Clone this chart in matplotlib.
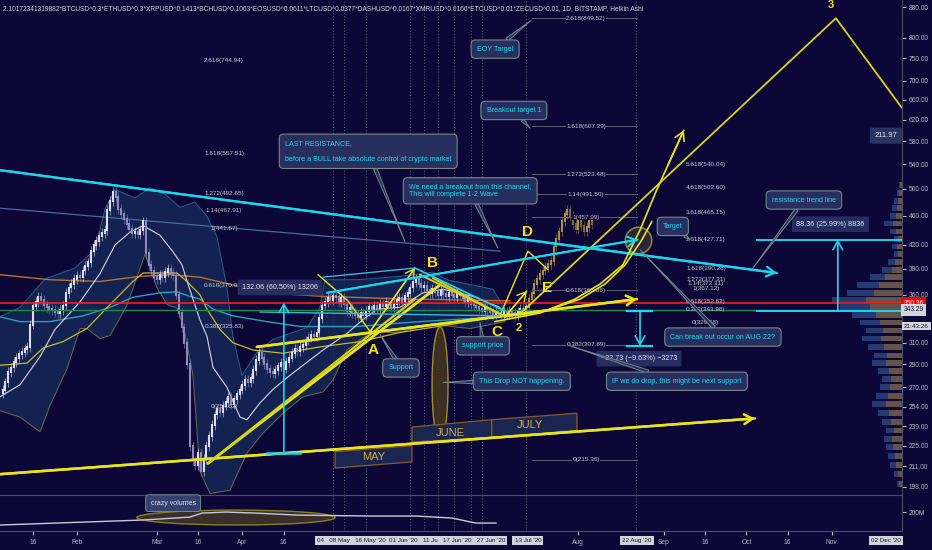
import numpy as np
import matplotlib
matplotlib.use("Agg")
import matplotlib.pyplot as plt
import matplotlib.transforms as mtransforms
from matplotlib.patches import Polygon, Ellipse
from matplotlib.ticker import NullLocator

plt.rcParams['font.family'] = ['Liberation Sans', 'DejaVu Sans']

BG = '#0c0736'
AXC = '#4a4e5c'
TXT = '#b2b5be'
CYAN = '#1ad6ee'
YEL = '#e8e41c'
BOX_FC = '#262f5e'
BOX_EC = '#76868a'
CALL_TXT = '#22dcef'

# ---------------- data (days counted from 1 Jan 2020) ----------------
first_day = 4
closes = [268, 274, 283, 287, 292, 296, 299, 301, 304, 306,
          328, 347, 352, 357, 354, 349, 346, 344, 343, 341,
          340, 343, 348, 362, 368, 372, 378, 382, 380, 388,
          394, 398, 412, 420, 425, 432, 436, 440, 468, 482,
          495, 488, 470, 462, 455, 448, 442, 436, 438, 434,
          440, 452, 410, 395, 388, 380, 378, 383, 380, 386,
          390, 385, 382, 360, 340, 325, 310, 290, 225, 215,
          212, 220, 208, 216, 225, 232, 240, 248, 252, 250,
          255, 258, 262, 256, 260, 264, 268, 272, 276, 274,
          278, 285, 294, 300, 296, 290, 286, 283, 282, 285,
          288, 291, 286, 292, 296, 300, 304, 302, 306, 308,
          312, 315, 318, 316, 320, 335, 348, 352, 356, 354,
          358, 357, 352, 356, 350, 342, 345, 340, 338, 336,
          340, 338, 342, 346, 344, 348, 345, 350, 347, 352,
          349, 346, 350, 354, 356, 352, 358, 362, 368, 374,
          378, 372, 368, 370, 365, 362, 366, 363, 360, 364,
          361, 358, 362, 360, 357, 362, 360, 356, 352, 355,
          350, 348, 346, 344, 342, 345, 343, 341, 339, 342,
          340, 338, 341, 339, 342, 340, 338, 341, 344, 342,
          346, 355, 362, 372, 378, 384, 388, 392, 396, 400,
          418, 428, 438, 452, 462, 468, 460, 448, 442, 452,
          446, 438, 444, 452, 448]
first_open = 265

# bands / moving averages (day, price)
bb_up_days = [3, 10.3, 19.4, 30.3, 37.5, 41.2, 44.8, 52.1, 57.5, 63, 68.4, 73.8, 78.2, 81.8,
              85.4, 87.6, 90.9, 96.3, 102.1, 114.5, 119.2, 121, 132.6, 148.2, 160.2, 165.3, 182, 186.4]
bb_up = [336, 346, 378, 391, 414, 470, 499, 486, 502, 492, 472, 480, 459, 431,
         369, 316, 280, 301, 313, 325, 346, 377, 377, 381, 386, 377, 366, 344]
bb_lo_days = [3, 10.3, 17.6, 21.2, 27.4, 32.1, 34.6, 39.3, 43, 49.1, 55.7, 60, 63.7, 67.3, 69.5,
              73.1, 75.6, 79.3, 86.5, 92.7, 98.5, 105.8, 113, 120.3, 123.9, 129, 134.8, 139.9,
              147.2, 160.2, 173.7, 186.4]
bb_lo = [251, 246, 235, 255, 286, 324, 324, 314, 317, 348, 408, 368, 349, 345, 328,
         280, 208, 194, 196, 220, 234, 249, 262, 266, 276, 303, 315, 320,
         320, 328, 324, 331]
ma_white_days = [3, 10.3, 17.6, 23, 32.1, 39.3, 44.8, 50.2, 55, 61.1, 65.9, 69.1, 71.3, 75.6, 78.2,
                 80.4, 85.4, 90.2, 92.7, 97.4, 102.1, 107.2, 112, 120.3, 129, 134.8, 139.9,
                 148.2, 156.6, 163.9, 174.7, 184.5]
ma_white = [262, 272, 297, 323, 352, 384, 420, 437, 446, 433, 411, 395, 372, 333, 316,
            287, 270, 246, 244, 257, 268, 278, 287, 303, 319, 333, 344,
            346, 362, 366, 358, 346]
ma_yel_days = [3, 12.9, 18.7, 25.9, 34.6, 43, 51.3, 55, 67.3, 70.9, 75.6, 78.2, 82.9, 87.6,
               94.9, 105.8, 119.2, 133.7, 148.2, 166.4, 184.5]
ma_yel = [289, 291, 305, 311, 324, 349, 375, 385, 385, 375, 360, 344, 323, 310,
          303, 300, 306, 311, 320, 328, 336]
ma_org_days = [3, 21.2, 39.3, 53.9, 64.8, 75.6, 99.9, 120.3, 151.9, 188.2]
ma_org = [383, 377, 375, 381, 383, 380, 362, 358, 355, 353]
ma_teal_days = [3, 10.3, 21.2, 33.2, 43, 51.3, 61.1, 67.3, 72, 75.6, 80.4, 87.6, 99.9, 112,
                132.6, 155.5, 184.5]
ma_teal = [336, 331, 331, 337, 346, 357, 362, 363, 358, 355, 344, 337, 331, 326,
           326, 331, 336]

# drawn trend lines (day, price)
cyan_channel = ([3, 285.1], [530, 385])
steel_line = ([3, 184.5], [471, 412])
yel_base = ([3, 277.1], [206, 245])
yel_fan1 = ([78.5, 162.8], [213, 371])
yel_fan2 = ([78.5, 153.7], [213, 355])
yel_support = ([96.3, 234.3], [306, 355])
yel_wave_ab = ([118.5, 129.4, 137.4, 153.7], [383, 353, 321, 391])
yel_bc1 = ([155.5, 184.5], [383, 339])
yel_bc2 = ([160.2, 186.4], [379, 336])
yel_wave_d = ([184.5, 194.7, 202], [337, 412, 389])
yel_small = ([186.4, 194.3], [336, 364])
yel_wave3 = ([191.8, 306.5, 330.5], [339, 850, 643])
yel_curve1 = ([182.7, 199.1, 211.8, 220.9, 229.2, 235.4, 240.8, 245.5, 251.3],
              [331, 340, 355, 372, 395, 440, 492, 538, 600])
yel_curve2 = ([186.4, 200.9, 213.6, 222.7, 230, 236.1, 239.7],
              [336, 342, 355, 372, 395, 427, 452])
cyan_target = ([121.8, 234.6], [362, 427])
cyan_bc = ([153.7, 186.4], [391, 342])
cyan_top = ([120.3, 153.7], [380, 391])
cyan_low = ([97.4, 184.5], [341, 337])

last_price = 350.36
prev_close = 343.29

# fibonacci labels
fib1_ratio = ['2.618', '1.618', '1.272', '1.14', '1', '0.618', '0.382', '0']
fib1_price = [744.94, 557.51, 492.65, 467.91, 441.67, 370.07, 325.83, 254.62]
fib2_ratio = ['2.618', '1.618', '1.272', '1.14', '1', '0.618', '0.382', '0']
fib2_price = [849.52, 607.29, 523.48, 491.50, 457.99, 365.06, 307.89, 215.36]
fib3_ratio = ['5.618', '4.618', '3.618', '2.618', '1.618', '1.272', '1.14', '1', '0.618', '0.382', '0']
fib3_price = [540.04, 502.60, 465.15, 427.71, 390.28, 377.31, 372.31, 367.12, 352.82, 343.98, 329.68]

# volume profile (price bin, total, down part)
vp_price = [200, 206, 212, 218, 224, 230, 236, 242, 249, 256, 263, 270, 277, 284, 291, 298, 306,
            314, 322, 330, 338, 346, 354, 362, 371, 380, 389, 398, 408, 418, 428, 438, 449, 460,
            471, 482, 494, 506]
vp_total = [5, 8, 12, 14, 16, 18, 16, 20, 24, 30, 26, 22, 20, 24, 30, 28, 34,
            40, 36, 42, 50, 62, 70, 55, 45, 32, 20, 14, 8, 10, 8, 12, 18, 12,
            10, 8, 5, 3]
vp_down = [3, 4, 6, 7, 9, 10, 8, 11, 13, 16, 14, 12, 11, 13, 16, 15, 18,
           21, 19, 22, 26, 32, 36, 28, 23, 17, 10, 7, 4, 5, 4, 6, 9, 6,
           5, 4, 3, 2]

# volume moving average (millions)
vol_days = [3, 55, 72, 76.4, 85, 96, 110.9, 137, 154, 167, 175.8, 183.1]
vol_ma = [63, 116, 147, 189, 200, 189, 168, 158, 158, 137, 84, 84]

# time axis
marker_days = [124, 128, 136, 152, 157, 162, 168, 174, 178, 194, 234]
tick_days = [15, 31, 60, 75, 91, 106, 213, 244, 259, 274, 289, 305]
tick_labels = ['16', 'Feb', 'Mar', '16', 'Apr', '16', 'Aug', 'Sep', '16', 'Oct', '16', 'Nov']
hl_days = [130.5, 165.3, 194.7, 234.3, 324.7]
hl_labels = ["04   08 May   16 May '20", "01 Jun '20   11 Ju   17 Jun '20   27 Jun '20",
             "13 Jul '20", "22 Aug '20", "02 Dec '20"]
price_ticks = [880, 800, 750, 700, 660, 620, 580, 540, 500, 460, 420, 390, 360,
               310, 290, 270, 254, 239, 225, 211, 198]

header = ("2.10172341319882*BTCUSD^0.3*ETHUSD^0.3*XRPUSD^0.1413*BCHUSD^0.1063*EOSUSD^0.0611*"
          "LTCUSD^0.0377*DASHUSD^0.0167*XMRUSD^0.0166*ETCUSD^0.01*ZECUSD^0.01, 1D, BITSTAMP, Heikin Ashi")

# ---------------- figure ----------------
W, H = 932, 550
fig = plt.figure(figsize=(W / 100, H / 100), dpi=100, facecolor=BG)
ax = fig.add_axes([0, 55 / H, 902 / W, 495 / H])
axv = fig.add_axes([0, 19 / H, 902 / W, 36 / H], sharex=ax)
vp = ax.twiny()

for a in (ax, axv, vp):
    for s in a.spines.values():
        s.set_visible(False)
ax.set_zorder(3)
ax.patch.set_visible(False)
vp.set_zorder(1)
vp.set_facecolor(BG)
axv.set_facecolor(BG)
ax.spines['right'].set_visible(True)
ax.spines['right'].set_color(AXC)
for s in ('right', 'top', 'bottom'):
    axv.spines[s].set_visible(True)
    axv.spines[s].set_color(AXC)

ax.set_yscale('log')
ax.set_xlim(3.05, 330.5)
ax.set_ylim(193.1, 899.4)
ax.yaxis.tick_right()
ax.set_yticks(price_ticks)
ax.set_yticklabels(['%.2f' % v for v in price_ticks])
ax.yaxis.set_minor_locator(NullLocator())
ax.tick_params(axis='y', labelsize=4.8, colors=TXT, length=3, pad=2)
ax.tick_params(axis='x', bottom=False, labelbottom=False)

# volume profile
vp.set_xlim(900, 0)
vp_h = [p * 0.018 for p in vp_price]
vp.barh(vp_price, vp_total, height=vp_h, color='#27407a', alpha=0.9, lw=0)
vp.barh(vp_price, vp_down, height=vp_h, color='#6b5646', alpha=0.9, lw=0)
vp.set_xticks([])

# vertical date markers
for d in marker_days:
    ax.axvline(d, color='#5c6074', lw=0.7, ls=(0, (1, 2)), zorder=0.5)
    axv.axvline(d, color='#5c6074', lw=0.7, ls=(0, (1, 2)))

# bollinger band
ax.fill(list(bb_up_days) + bb_lo_days[::-1], list(bb_up) + bb_lo[::-1],
        color='#172a58', alpha=0.8, lw=0, zorder=1)
ax.plot(bb_up_days, bb_up, color='#2b5f82', lw=0.7, zorder=1.2)
ax.plot(bb_lo_days, bb_lo, color='#6c6a4c', lw=0.7, zorder=1.2)

# moving averages
ax.plot(ma_org_days, ma_org, color='#b8722c', lw=1.0, zorder=2)
ax.plot(ma_teal_days, ma_teal, color='#2aa0c0', lw=1.0, zorder=2)
ax.plot(ma_yel_days, ma_yel, color='#c9b92e', lw=0.9, zorder=2)
ax.plot(ma_white_days, ma_white, color='#d6d6e6', lw=0.8, zorder=2)
ax.plot(*steel_line, color='#4a6a9c', lw=0.9, zorder=2)

# candles (body + thin wick)
days = np.arange(first_day, first_day + len(closes))
opens = [first_open] + closes[:-1]
for d, o, c in zip(days, opens, closes):
    if d >= 195:
        col = '#a8923e' if c >= o else '#7c6c34'
    else:
        col = '#dcdcf2' if c >= o else '#8e8abc'
    lo_, hi_ = min(o, c), max(o, c)
    ax.vlines(d, lo_ * 0.985, hi_ * 1.015, color=col, lw=0.5, zorder=3, alpha=0.8)
    ax.vlines(d, lo_ * 0.997, hi_ * 1.003, color=col, lw=1.5, zorder=3)

# horizontal price lines
ax.axhline(last_price, color='#ff1a1a', lw=1.2, zorder=4)
ax.axhline(prev_close, color='#1e8a48', lw=1.0, zorder=4)


def arrow_line(xs, ys, color, lw, head=True):
    ax.plot(xs, ys, color=color, lw=lw, zorder=5, solid_capstyle='round')
    if head:
        ax.annotate('', xy=(xs[-1], ys[-1]), xytext=(xs[-2], ys[-2]), zorder=5,
                    arrowprops=dict(arrowstyle='->,head_length=0.6,head_width=0.35',
                                    color=color, lw=lw, shrinkA=0, shrinkB=0))


arrow_line(*cyan_channel, CYAN, 1.6)
arrow_line(*yel_base, YEL, 1.8)
arrow_line(*yel_fan1, YEL, 2.0, head=False)
arrow_line(*yel_fan2, '#d6d21c', 1.6, head=False)
arrow_line(*yel_support, YEL, 1.8)
arrow_line(*yel_wave_ab, YEL, 1.0)
arrow_line(*yel_bc1, '#d8d020', 1.4, head=False)
arrow_line(*yel_bc2, '#d8d020', 1.4, head=False)
arrow_line(*yel_wave_d, YEL, 1.0, head=False)
arrow_line(*yel_small, YEL, 1.0)
arrow_line(*yel_wave3, '#d8d41e', 1.3, head=False)
arrow_line(*yel_curve1, YEL, 1.2)
arrow_line(*yel_curve2, YEL, 1.2, head=False)
arrow_line(*cyan_target, CYAN, 1.4)
arrow_line(*cyan_bc, CYAN, 1.2, head=False)
arrow_line(*cyan_top, '#39b8d0', 1.0, head=False)
arrow_line(*cyan_low, '#39b8d0', 1.0, head=False)

# target circle
ax.plot([234.6], [427], marker='o', ms=19, mfc='#2c2a3c', mec='#9a9a30', mew=1.2,
        alpha=0.85, zorder=4.5)

# drop ellipse (in day / log-price space)
t = np.linspace(0, 2 * np.pi, 80)
lc = (np.log(325.7) + np.log(227.6)) / 2
lh = (np.log(325.7) - np.log(227.6)) / 2
ax.add_patch(Polygon(np.c_[162.8 + 2.9 * np.cos(t), np.exp(lc + lh * np.sin(t))],
                     closed=True, fc='#4a3a1a', ec='#b8ac28', lw=1.0, alpha=0.8, zorder=4))

# month boxes
months = [("MAY", [(124.7, 221), (152.6, 225), (152.6, 214), (124.7, 210)], (138.6, 217)),
          ("JUNE", [(152.6, 238.5), (181.6, 244), (181.6, 231), (152.6, 227.6)], (166.4, 234)),
          ("JULY", [(181.6, 244), (212.5, 249), (212.5, 236), (181.6, 231)], (195.4, 240))]
for name, pts, c in months:
    ax.add_patch(Polygon(pts, closed=True, fc='#1b2552', ec='#8a5a2c', lw=0.9, zorder=4))
    ax.text(c[0], c[1], name, color='#d9aa3a', fontsize=8, ha='center', va='center', zorder=4.2)

# fib levels
fib_kw = dict(fontsize=4.6, color='#c4c6d0', ha='center', va='center', zorder=4.3)
for r, p in zip(fib1_ratio, fib1_price):
    ax.text(84.4, p, '%s(%.2f)' % (r, p), **fib_kw)
for r, p in zip(fib2_ratio, fib2_price):
    ax.plot([196.2, 234.3], [p, p], color='#5e6072', lw=0.7, zorder=3.5)
    ax.text(215.8, p, '%s(%.2f)' % (r, p),
            bbox=dict(fc=BG, ec='none', pad=0.3), **fib_kw)
for r, p in zip(fib3_ratio, fib3_price):
    ax.text(259.3, p, '%s(%.2f)' % (r, p), **fib_kw)

# wave letters
letters = [('A', 138.4, 303, 11), ('B', 160.2, 397, 11), ('C', 183.5, 320, 11),
           ('D', 194.7, 437, 11), ('E', 201.6, 368, 11), ('2', 191.4, 324, 8), ('3', 304.7, 885, 8)]
for s, d, p, fs in letters:
    ax.text(d, p, s, color='#f2e21a', fontsize=fs, fontweight='bold', ha='center', va='center', zorder=6)

# measure tools
mkw = dict(arrowstyle='->,head_length=0.6,head_width=0.35', color=CYAN, lw=1.2, shrinkA=0, shrinkB=0)
ax.annotate('', xy=(106.1, 351), xytext=(106.1, 220), arrowprops=mkw, zorder=5)
ax.plot([100, 112], [220, 220], color=CYAN, lw=1.8, zorder=5)
ax.annotate('', xy=(307.2, 427), xytext=(307.2, 342), arrowprops=mkw, zorder=5)
ax.plot([277.8, 330.5], [427, 427], color=CYAN, lw=1.4, zorder=5)
ax.plot([277.8, 330.5], [342, 342], color=CYAN, lw=1.4, zorder=5)
ax.annotate('', xy=(235.4, 307), xytext=(235.4, 342), arrowprops=mkw, zorder=5)
ax.plot([230.7, 239.7], [342, 342], color=CYAN, lw=1.6, zorder=5)
ax.plot([230.7, 239.7], [307, 307], color=CYAN, lw=1.6, zorder=5)
lab_kw = dict(fontsize=5.2, color='#e4e6ee', ha='center', va='center', zorder=6,
              bbox=dict(boxstyle='round,pad=0.6,rounding_size=0.2', fc='#272d60', ec='none'))
ax.text(104.7, 368, '132.06 (60.50%) 13206', **lab_kw)
ax.text(304.5, 448, '88.36 (25.99%) 8836', **lab_kw)
ax.text(235, 295, '\u221232.73 (\u22129.63%) \u22123273', **lab_kw)

# callouts
callouts = [("EOY Target", (182.8, 772), (195.8, 844), 'center'),
            ("Breakout target 1", (189.6, 638), (195.4, 604), 'center'),
            ("LAST RESISTANCE,\n\nbefore a BULL take absolute control of crypto market",
             (106.5, 562), (150.1, 424), 'left'),
            ("We need a breakout from this channel,\nThis will complete 1-2 Wave",
             (151.5, 497), (183.8, 416), 'left'),
            ("Target", (247.3, 445), (253.5, 427), 'center'),
            ("resistance trend line", (294.9, 483), (276.4, 391), 'center'),
            ("Can break out occur on AUG 22?", (265.5, 315.5), (235.4, 414), 'center'),
            ("IF we do drop, this might be next support", (248.8, 275), (208.9, 308), 'center'),
            ("This Drop NOT happening.", (192.5, 275), (163.9, 274), 'center'),
            ("support price", (178.4, 307), (177.3, 330), 'center'),
            ("Support", (148.6, 286.6), (141, 318), 'center')]
for txt, xy_box, xy_tip, ha in callouts:
    ax.annotate(txt, xy=xy_tip, xytext=xy_box, ha=ha, va='center', fontsize=5.1,
                color=CALL_TXT, zorder=7, multialignment='left',
                bbox=dict(boxstyle='round,pad=0.8,rounding_size=0.6', fc=BOX_FC, ec=BOX_EC, lw=0.8),
                arrowprops=dict(arrowstyle='wedge,tail_width=0.5,shrink_factor=0.4',
                                fc=BOX_FC, ec=BOX_EC, lw=0.7, shrinkA=0, shrinkB=0))

# price tags on the axis
tr = mtransforms.blended_transform_factory(ax.transAxes, ax.transData)
ax.text(1.002, last_price, '%.2f' % last_price, transform=tr, fontsize=4.8, color='white',
        ha='left', va='center', clip_on=False, zorder=8,
        bbox=dict(boxstyle='square,pad=0.35', fc='#ff0000', ec='none'))
ax.text(1.002, prev_close, '%.2f' % prev_close, transform=tr, fontsize=4.8, color='#131722',
        ha='left', va='center', clip_on=False, zorder=8,
        bbox=dict(boxstyle='square,pad=0.35', fc='#d1d4dc', ec='none'))
ax.text(1.002, 326.5, '21:43:26', transform=tr, fontsize=4.6, color='#131722',
        ha='left', va='center', clip_on=False, zorder=8,
        bbox=dict(boxstyle='square,pad=0.3', fc='#d1d4dc', ec='none'))
ax.text(320.5, 590, '211.97', fontsize=5.5, color='#e4e6ee', ha='left', va='center', zorder=8,
        bbox=dict(boxstyle='round,pad=0.6,rounding_size=0.2', fc='#283462', ec='none'))

# volume pane
axv.set_ylim(0, 380)
axv.plot(vol_days, vol_ma, color='#c8c8dc', lw=1.0)
axv.add_patch(Ellipse((88.7, 142), 72, 158, fc='#5a4a20', ec='#c8c020', lw=1.0, alpha=0.6))
axv.text(65.9, 294, 'crazy volumes', fontsize=5, color='#e4e6ee', ha='center', va='center',
         clip_on=False, zorder=6,
         bbox=dict(boxstyle='round,pad=0.7,rounding_size=0.4', fc='#34406e', ec=BOX_EC, lw=0.7))
axv.yaxis.tick_right()
axv.set_yticks([200])
axv.set_yticklabels(['200M'])
axv.tick_params(axis='y', labelsize=4.8, colors=TXT, length=3, pad=2)
axv.set_xticks(tick_days)
axv.set_xticklabels(tick_labels)
axv.tick_params(axis='x', labelsize=4.8, colors=TXT, length=3, pad=3)
trv = mtransforms.blended_transform_factory(axv.transData, axv.transAxes)
for d, s in zip(hl_days, hl_labels):
    axv.text(d, -0.27, s, transform=trv, fontsize=4.5, color='#131722', ha='center', va='center',
             clip_on=False, bbox=dict(boxstyle='square,pad=0.35', fc='#d1d4dc', ec='none'))

fig.text(3 / W, 1 - 9 / H, header, fontsize=4.8, color='#d0d2da', ha='left', va='center')

fig.savefig('out.png', dpi=100, facecolor=BG)
